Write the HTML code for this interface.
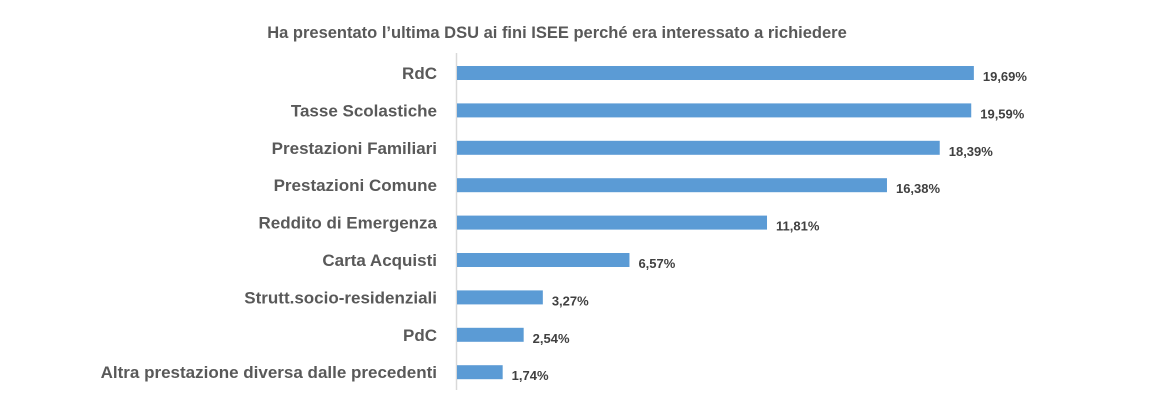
<!DOCTYPE html>
<html><head><meta charset="utf-8"><style>
body{margin:0;background:#fff;}
svg{display:block;font-family:"Liberation Sans",sans-serif;}
</style></head><body>
<svg width="1172" height="412">
<text x="557" y="38" text-anchor="middle" font-size="16.5" font-weight="bold" fill="#595959">Ha presentato l’ultima DSU ai fini ISEE perché era interessato a richiedere</text>
<line x1="456.5" y1="53" x2="456.5" y2="390" stroke="#d9d9d9" stroke-width="1.5"/>
<g id="bars"></g>
</svg>
<script>
const categories=["RdC","Tasse Scolastiche","Prestazioni Familiari","Prestazioni Comune","Reddito di Emergenza","Carta Acquisti","Strutt.socio-residenziali","PdC","Altra prestazione diversa dalle precedenti"];
const values=[19.69,19.59,18.39,16.38,11.81,6.57,3.27,2.54,1.74];
const valueLabels=["19,69%","19,59%","18,39%","16,38%","11,81%","6,57%","3,27%","2,54%","1,74%"];
const x0=457,scale=26.25,y0=73,step=37.4,bh=14;
const xs=v=>x0+v*scale, ys=i=>y0+i*step;
const g=document.getElementById('bars');const NS="http://www.w3.org/2000/svg";
categories.forEach((c,i)=>{
 const r=document.createElementNS(NS,'rect');
 r.setAttribute('x',x0);r.setAttribute('y',ys(i)-bh/2);r.setAttribute('width',xs(values[i])-x0);r.setAttribute('height',bh);r.setAttribute('fill','#5b9bd5');
 
 
 g.appendChild(r);
 const t=document.createElementNS(NS,'text');
 t.setAttribute('x',437);t.setAttribute('y',ys(i)+6);t.setAttribute('text-anchor','end');t.setAttribute('font-size','17');t.setAttribute('font-weight','bold');t.setAttribute('fill','#595959');t.textContent=c;
 
 
 g.appendChild(t);
 const v=document.createElementNS(NS,'text');
 v.setAttribute('x',xs(values[i])+9);v.setAttribute('y',ys(i)+8);v.setAttribute('font-size','13');v.setAttribute('font-weight','bold');v.setAttribute('fill','#404040');v.textContent=valueLabels[i];
 
 
 g.appendChild(v);
});
</script>
</body></html>
